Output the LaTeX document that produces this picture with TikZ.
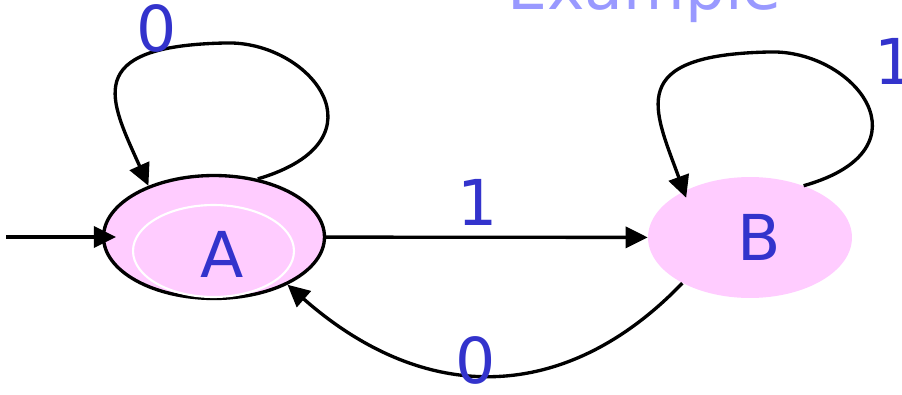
\documentclass[tikz,border=0pt]{standalone}
\usepackage{fontspec}
\setmainfont{DejaVu Sans}
\usepackage{xcolor}
\usetikzlibrary{arrows.meta,positioning,shapes.geometric}
\definecolor{statePink}{HTML}{FFCCFF}
\definecolor{labelBlue}{HTML}{3333CC}
\definecolor{titleBlue}{HTML}{9999FF}

\begin{document}
\begin{tikzpicture}[
    x=0.02cm, y=-0.02cm,
    >={Triangle[length=12.5pt,width=12pt]},
    state/.style={ellipse,fill=statePink,inner sep=0pt},
    arr/.style={->,line width=1.9pt,black},
    lbl/.style={text=labelBlue,font=\fontsize{36}{40}\selectfont,inner sep=0pt}
  ]
  \useasboundingbox (0,0) rectangle (902,395);
  \clip (0,0) rectangle (902,395);
  %% Title (runs off the top edge)
  \node[text=titleBlue,font=\fontsize{36}{40}\selectfont,anchor=base west,inner sep=0pt] (title) at (507,10) {Example};
  %% States
  \node[state,draw=black,line width=1.9pt,minimum width=4.42cm,minimum height=2.46cm] (A) at (214,237) {};
  \node[ellipse,draw=white,line width=1.2pt,minimum width=3.22cm,minimum height=1.84cm] (Aring) at (213.5,251) {};
  \node[state,minimum width=4.08cm,minimum height=2.42cm] (B) at (750,237.5) {};
  \node[lbl] (Atext) at (222,254) {A};
  \node[lbl] (Btext) at (759,237) {B};
  %% Start arrow
  \coordinate (entry) at (6,237);
  \draw[arr,shorten >=-8pt] (entry) -- (A.west);
  %% Transitions
  \draw[arr] (A) -- node[lbl,pos=0.47,above=5.5pt] (oneAB) {1} (B);
  \draw[arr] (B.214) .. controls (570,400) and (430,410) .. node[lbl,pos=0.55,yshift=8pt] (zeroBA) {0} (A.327);
  %% Self loops
  \draw[arr] (A.53) .. controls (390,140) and (310,40) .. (225,43) .. controls (80,46) and (110,100) .. (A.142);
  \node[lbl] (zeroAA) at (157,28) {0};
  \draw[arr,shorten >=-4pt] (B.44) .. controls (934,149) and (854,49) .. (769,52) .. controls (624,55) and (654,109) .. (B.145);
  \node[lbl] (oneBB) at (895,61) {1};
\end{tikzpicture}
\end{document}
